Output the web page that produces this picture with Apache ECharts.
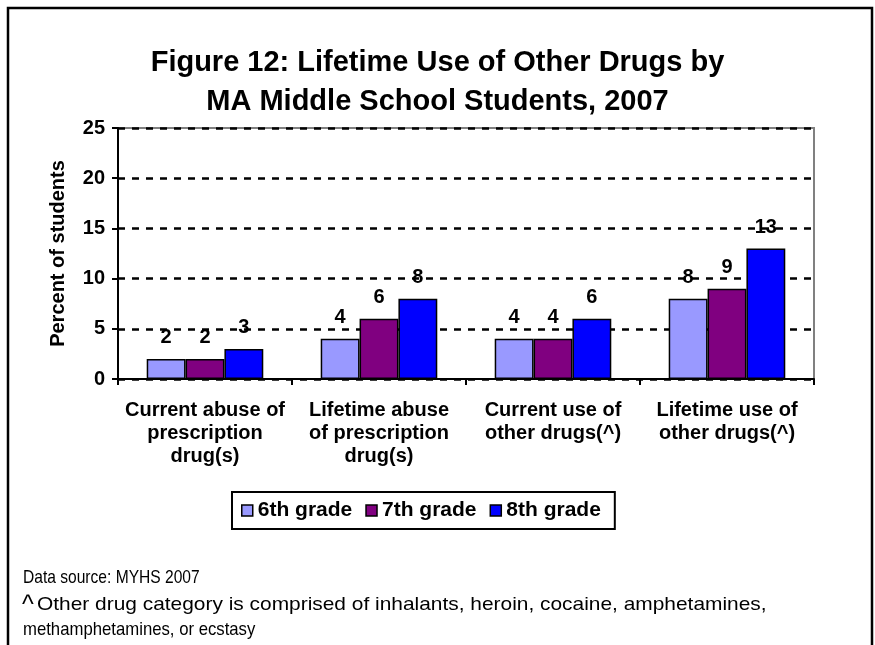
<!DOCTYPE html>
<html>
<head>
<meta charset="utf-8">
<script src="https://cdn.jsdelivr.net/npm/echarts@6/dist/echarts.min.js"></script>
<style>
  html, body { margin: 0; padding: 0; background: #fff; }
  #chart { width: 875px; height: 645px; }
</style>
</head>
<body>
<div id="chart"></div>
<script>
// Categories (line breaks follow the wrapped axis labels)
const categories = [
  'Current abuse of\nprescription\ndrug(s)',
  'Lifetime abuse\nof prescription\ndrug(s)',
  'Current use of\nother drugs(^)',
  'Lifetime use of\nother drugs(^)'
];
const seriesNames = ['6th grade', '7th grade', '8th grade'];
const grade6 = [2, 4, 4, 8];
const grade7 = [2, 6, 4, 9];
const grade8 = [3, 8, 6, 13];
const yTicks = [0, 5, 10, 15, 20, 25];

const colors = ['#9999FF', '#800080', '#0000FF'];
const FONT = 'Arial, "Liberation Sans", sans-serif';

const titleText = 'Figure 12: Lifetime Use of Other Drugs by\nMA Middle School Students, 2007';
const sourceNote = 'Data source: MYHS 2007';
const footnoteLine1 = 'Other drug category is comprised of inhalants, heroin, cocaine, amphetamines,';
const footnoteLine2 = 'methamphetamines, or ecstasy';

const chart = echarts.init(document.getElementById('chart'), null, { renderer: 'canvas' });

function barSeries(name, data, color) {
  return {
    name: name,
    type: 'bar',
    data: data,
    barGap: '0%',
    barCategoryGap: '33%',
    itemStyle: { color: color, borderColor: '#000', borderWidth: 1.5 },
    label: {
      show: true,
      position: 'top',
      distance: 11,
      color: '#000',
      fontFamily: FONT,
      fontWeight: 'bold',
      fontSize: 20
    }
  };
}

// Footnote text line, left anchored, with a horizontal scale for its text box
function noteLine(text, x, y, scaleX) {
  return {
    type: 'text',
    x: x,
    y: y,
    scaleX: scaleX,
    silent: true,
    style: {
      text: text,
      font: '19px ' + FONT,
      fill: '#000',
      textVerticalAlign: 'middle'
    }
  };
}

chart.setOption({
  animation: false,
  backgroundColor: '#fff',
  title: {
    text: titleText,
    left: 'center',
    top: 38,
    textStyle: {
      fontFamily: FONT,
      fontWeight: 'bold',
      fontSize: 29,
      lineHeight: 39,
      color: '#000'
    }
  },
  grid: {
    left: 118,
    right: 61,
    top: 128,
    bottom: 266,
    show: true,
    borderColor: '#808080',
    borderWidth: 2,
    containLabel: false
  },
  legend: {
    data: seriesNames,
    left: 232,
    top: 492,
    orient: 'horizontal',
    borderColor: '#000',
    borderWidth: 2,
    padding: [8, 14, 8, 9],
    itemWidth: 11,
    itemHeight: 11,
    itemGap: 13,
    icon: 'rect',
    itemStyle: { borderColor: '#000', borderWidth: 1.5 },
    textStyle: {
      fontFamily: FONT,
      fontWeight: 'bold',
      fontSize: 21,
      color: '#000'
    }
  },
  xAxis: {
    type: 'category',
    data: categories,
    axisLine: { lineStyle: { color: '#000', width: 2 } },
    axisTick: { show: true, length: 6, lineStyle: { color: '#000', width: 2 } },
    axisLabel: {
      margin: 20,
      color: '#000',
      fontFamily: FONT,
      fontWeight: 'bold',
      fontSize: 20,
      lineHeight: 23,
      interval: 0
    }
  },
  yAxis: {
    type: 'value',
    min: yTicks[0],
    max: yTicks[yTicks.length - 1],
    interval: yTicks[1] - yTicks[0],
    name: 'Percent of students',
    nameLocation: 'middle',
    nameRotate: 90,
    nameGap: 50,
    nameTextStyle: {
      fontFamily: FONT,
      fontWeight: 'bold',
      fontSize: 20,
      color: '#000'
    },
    axisLine: { show: true, lineStyle: { color: '#000', width: 2 } },
    axisTick: { show: true, length: 6, lineStyle: { color: '#000', width: 2 } },
    axisLabel: {
      margin: 13,
      color: '#000',
      fontFamily: FONT,
      fontWeight: 'bold',
      fontSize: 20
    },
    splitLine: {
      show: true,
      lineStyle: { color: '#000', width: 2.5, type: [7, 7] }
    }
  },
  series: [
    barSeries(seriesNames[0], grade6, colors[0]),
    barSeries(seriesNames[1], grade7, colors[1]),
    barSeries(seriesNames[2], grade8, colors[2])
  ],
  graphic: [
    {
      type: 'rect',
      shape: { x: 8, y: 8, width: 864, height: 700 },
      style: { fill: null, stroke: '#000', lineWidth: 2.5 },
      z: 100,
      silent: true
    },
    noteLine(sourceNote, 23, 578, 0.82),
    {
      type: 'text',
      x: 22,
      y: 594,
      silent: true,
      style: { text: '^', font: '25px ' + FONT, fill: '#000', textVerticalAlign: 'top' }
    },
    noteLine(footnoteLine1, 37, 605, 1.1),
    noteLine(footnoteLine2, 23, 630, 0.88)
  ]
});
</script>
</body>
</html>
